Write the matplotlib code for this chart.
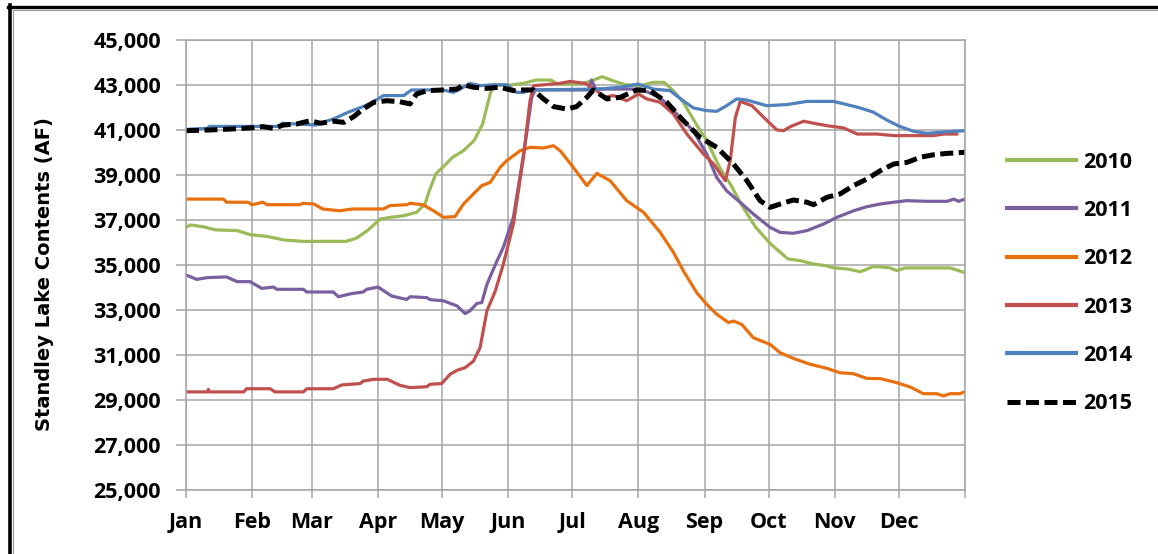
import matplotlib
matplotlib.use("Agg")
import matplotlib.pyplot as plt
from matplotlib.lines import Line2D
from matplotlib.ticker import FuncFormatter

# ---------------- data (day of year, acre-feet) ----------------
days_2010 = [0, 2, 8, 14, 24, 30, 38, 46, 55, 61, 75, 80, 85, 91, 96, 102, 108, 112, 114, 117,
             121, 125, 130, 135, 139, 142.5, 144, 152, 158, 164, 171, 174, 185, 191, 195, 200, 206, 213, 219, 224,
             228, 233, 239, 244, 250, 255, 261, 267, 274, 282, 288, 294, 300, 303, 310, 316, 322, 326, 330, 333,
             337, 350, 358, 363, 365]
vals_2010 = [36670, 36780, 36700, 36560, 36530, 36350, 36270, 36110, 36050, 36050,
             36050, 36200, 36530, 37040, 37120, 37190, 37340, 37710, 38300, 39040,
             39410, 39790, 40080, 40530, 41270, 42600, 42970, 43000, 43070, 43220,
             43220, 43040, 43040, 43220, 43370, 43190, 43010, 42970, 43120, 43120,
             42780, 42230, 41270, 40530, 39340, 38600, 37560, 36670, 35930, 35270,
             35190, 35040, 34970, 34880, 34820, 34700, 34930, 34910, 34870, 34750,
             34870, 34870, 34870, 34720, 34660]

days_2011 = [0, 5, 10, 19, 24, 30, 35.5, 41, 42.5, 55, 56.6, 69, 71.4, 77.6, 83, 84.7, 90, 96.4, 103.4, 105,
             112.8, 114.4, 120.6, 127, 130.8, 133, 136.3, 138.6, 141, 145, 148.7, 153.4, 158.2, 162, 163.6,
             183, 188.5, 190, 192, 213, 222, 230, 237.6, 244, 248.6, 253.3, 259.6, 265.8, 273.7, 278.4, 284.6,
             291, 298.7, 305, 312.8, 319, 325.3, 331.6, 337.8, 347, 356.6, 359.7, 362, 365]
vals_2011 = [34560, 34360, 34440, 34470, 34260, 34260, 33960, 34020, 33920, 33920,
             33800, 33800, 33590, 33730, 33800, 33920, 34020, 33620, 33470, 33590,
             33550, 33460, 33410, 33180, 32840, 32960, 33290, 33330, 34140, 35030,
             35790, 37120, 39930, 42450, 42780,
             42780, 42780, 43220, 42820, 42820, 42450, 41710, 40970, 39930, 38900, 38300, 37790, 37270, 36670, 36450, 36410,
             36530, 36820, 37120, 37410, 37590, 37710, 37790, 37860, 37830, 37830, 37930, 37830, 37930]

days_2012 = [0, 17.5, 19, 29, 31, 36, 38, 53, 55, 60, 64, 72, 78, 92.5, 95.6, 103.4, 105, 111, 116, 120.6,
             126, 130, 134.7, 138.6, 142.5, 147.2, 150.3, 156.6, 161.2, 167.5, 172.2, 175.3, 181, 187.8, 192.5,
             198.7, 206.5, 214.4, 222.2, 228.4, 233.1, 239.3, 244, 248.7, 254.2, 256.5, 260.4, 265.8, 273.7,
             278.4, 284.6, 292.4, 300.2, 306.4, 312.7, 319, 325.2, 331.5, 339.3, 345.5, 351.8, 354.9, 358,
             362.7, 365]
vals_2012 = [37930, 37930, 37790, 37790, 37680, 37790, 37680, 37680, 37740, 37710,
             37490, 37410, 37490, 37490, 37640, 37680, 37740, 37680, 37410, 37120,
             37150, 37710, 38160, 38530, 38670, 39340, 39640, 40080, 40230, 40200,
             40300, 40080, 39400, 38530, 39070, 38750, 37860, 37340, 36450, 35560,
             34730, 33770, 33250, 32810, 32440, 32510, 32360, 31770, 31470, 31100,
             30850, 30590, 30410, 30210, 30170, 29960, 29950, 29810, 29580, 29280,
             29280, 29180, 29280, 29280, 29370]

days_2013 = [0, 10, 10.5, 11, 27, 28.4, 39.4, 41.7, 55, 56.6, 69, 73, 81.6, 83, 87.8, 94.3, 100.3, 105, 112.8,
             114.4, 119.8, 123.7, 127, 130.8, 134.7, 137.8, 141, 144.9, 148.7, 153.4, 158.1, 161.2, 162.8, 175,
             180, 187, 192.5, 195.6, 200.3, 206.5, 212, 215.9, 222.2, 228.4, 234.7, 242.5, 247.2, 252.7, 255,
             257.4, 259.7, 265.2, 270.7, 276.9, 280, 283.2, 289.4, 295.7, 300.4, 308.2, 314.5, 323.8, 331.6,
             339.4, 350.3, 355, 361.2]
vals_2013 = [29360, 29360, 29470, 29360, 29360, 29500, 29500, 29360, 29360, 29500,
             29500, 29670, 29730, 29840, 29920, 29920, 29650, 29550, 29590, 29700,
             29730, 30140, 30320, 30440, 30730, 31330, 32960, 33840, 35040, 36820,
             39790, 42300, 42970, 43070, 43160, 43070, 42750, 42450, 42530, 42300,
             42600, 42380, 42230, 41710, 40820, 39930, 39490, 38750, 39640, 41560,
             42270, 42080, 41560, 41000, 40970, 41150, 41390, 41270, 41190, 41090,
             40820, 40820, 40750, 40750, 40750, 40820, 40820]

days_2014 = [0, 10, 11, 44, 45, 61, 63, 69, 76, 83, 88, 92.5, 102, 105.7, 120.6, 125.3, 128.4, 133.1, 137.8,
             144, 150.3, 155, 158, 161.2, 194, 203.4, 212, 219, 226.8, 233, 237.7, 244, 248.7, 253.3, 258,
             262.8, 272.1, 281.5, 290.9, 303.4, 309.6, 315.9, 322.1, 328.4, 334.6, 340.9, 347.2, 353.4, 365]
vals_2014 = [41030, 41070, 41160, 41160, 41300, 41220, 41300, 41490, 41790, 42040,
             42270, 42530, 42530, 42780, 42780, 42670, 42820, 43070, 42970, 43010,
             43010, 42670, 42670, 42780, 42820, 42900, 43040, 42820, 42750, 42300,
             41980, 41860, 41830, 42080, 42380, 42330, 42080, 42130, 42270, 42270,
             42130, 41980, 41790, 41440, 41150, 40940, 40850, 40900, 40970]

days_2015 = [0, 11, 20.6, 30, 36, 41, 45.6, 52, 58, 63, 69, 74, 78.5, 83, 88, 94, 100, 105, 108, 113,
             120.6, 127, 130, 134.7, 141, 147, 153.4, 158, 162.8, 167.5, 172.2, 178.4, 183, 187.8, 190.9,
             197.2, 203.4, 211.2, 217.5, 225.3, 233.1, 240.9, 248.7, 256.5, 262.8, 269, 273.7, 278.4, 284.6,
             290.9, 294, 300.3, 306.5, 312.8, 319, 325.3, 331.6, 337.8, 344.1, 350.3, 356.6, 365]
vals_2015 = [40970, 41000, 41040, 41090, 41150, 41070, 41220, 41270, 41410, 41300,
             41390, 41340, 41590, 41930, 42230, 42300, 42260, 42160, 42600, 42750,
             42780, 42820, 43010, 42900, 42850, 42900, 42750, 42780, 42780, 42380,
             42040, 41930, 42040, 42450, 42780, 42380, 42450, 42780, 42750, 42230,
             41410, 40670, 40230, 39490, 38750, 37860, 37560, 37710, 37890, 37790,
             37680, 38010, 38160, 38530, 38820, 39190, 39490, 39560, 39790, 39900,
             39960, 40010]

month_starts = [0, 31, 59, 90, 120, 151, 181, 212, 243, 273, 304, 334, 365]
month_labels = ["Jan", "Feb", "Mar", "Apr", "May", "Jun", "Jul", "Aug", "Sep", "Oct", "Nov", "Dec", ""]
y_ticks = [25000, 27000, 29000, 31000, 33000, 35000, 37000, 39000, 41000, 43000, 45000]

series = [
    ("2010", days_2010, vals_2010, "#9BBB59"),
    ("2011", days_2011, vals_2011, "#7A5FA0"),
    ("2012", days_2012, vals_2012, "#E8700F"),
    ("2013", days_2013, vals_2013, "#C0504D"),
    ("2014", days_2014, vals_2014, "#4F81BD"),
]

# ---------------- figure ----------------
W, H = 1158, 554
fig = plt.figure(figsize=(W / 100, H / 100), dpi=100)
fig.patch.set_facecolor("white")
ax = fig.add_axes([186 / W, 1 - 490 / H, (965 - 186) / W, (490 - 40) / H])

for name, d, v, c in series:
    ax.plot(d, v, color=c, lw=2.3, label=name, solid_joinstyle="round")
ax.plot(days_2015, vals_2015, color="black", lw=3.6, label="2015",
        dashes=(2.6, 1.1), dash_capstyle="butt")

ax.set_xlim(0, 365)
ax.set_ylim(25000, 45000)
ax.set_xticks(month_starts)
ax.set_xticklabels(month_labels)
ax.set_yticks(y_ticks)
ax.yaxis.set_major_formatter(FuncFormatter(lambda v, p: f"{int(v):,}"))

grid_c = "#A6A6A6"
ax.grid(True, color=grid_c, lw=1.1)
ax.set_axisbelow(True)
for s in ax.spines.values():
    s.set_color(grid_c)
    s.set_linewidth(1.1)

FONT = ["Open Sans", "DejaVu Sans"]
for lab in ax.get_xticklabels() + ax.get_yticklabels():
    lab.set_fontfamily(FONT)
    lab.set_fontweight("bold")
    lab.set_fontsize(15.5)
ax.tick_params(axis="x", length=6, width=1.1, color=grid_c, pad=10)
ax.tick_params(axis="y", length=7, width=1.1, color=grid_c, pad=11)

fig.text(45 / W, 1 - 274 / H, "Standley Lake Contents (AF)", rotation=90,
         ha="center", va="center", fontsize=14, fontweight="bold", family="DejaVu Sans")

leg = fig.legend(loc="center left", bbox_to_anchor=(1007 / W, 1 - 283 / H), frameon=False,
                 borderpad=0, borderaxespad=0, handlelength=3.2, handletextpad=0.35,
                 labelspacing=1.27, prop=dict(family=FONT, weight="bold", size=15.5))
for h in leg.legend_handles[:5]:
    h.set_linewidth(3.0)

# outer border (top and left visible)
fig.add_artist(Line2D([8 / W, 1], [1 - 6.5 / H, 1 - 6.5 / H], transform=fig.transFigure,
                      color="black", lw=2.4))
fig.add_artist(Line2D([9.5 / W, 9.5 / W], [0, 1 - 5 / H], transform=fig.transFigure,
                      color="black", lw=2.6))
fig.add_artist(Line2D([12.5 / W, 1], [1 - 10 / H, 1 - 10 / H], transform=fig.transFigure,
                      color="#9A9A9A", lw=0.8))
fig.add_artist(Line2D([12.5 / W, 12.5 / W], [0, 1 - 10 / H], transform=fig.transFigure,
                      color="#9A9A9A", lw=0.8))

fig.savefig("out.png", dpi=100)
